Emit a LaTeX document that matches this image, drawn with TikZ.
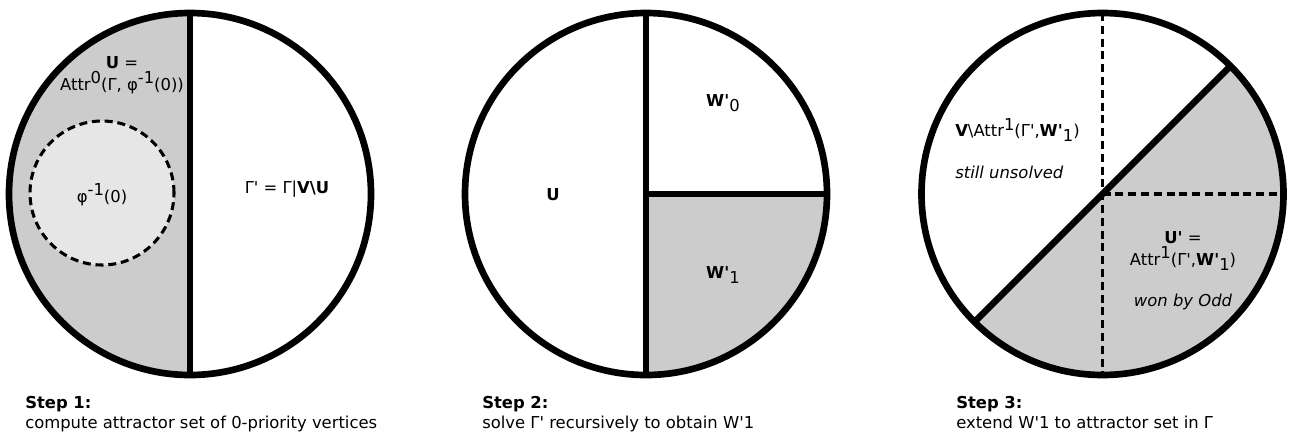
\documentclass[tikz,border=0pt]{standalone}
\usepackage{fontspec}
\setmainfont{DejaVu Sans}[Ligatures=TeXOff]
\usetikzlibrary{positioning}
\definecolor{Shade}{HTML}{CCCCCC}
\definecolor{Pale}{HTML}{E6E6E6}
\newcommand{\up}[1]{\raisebox{0.42em}{#1}}
\newcommand{\dn}[1]{\raisebox{-0.3em}{#1}}

\begin{document}
\begin{tikzpicture}[x=0.75pt, y=0.75pt, font=\fontsize{12.3}{16.5}\selectfont,
  rim/.style={line width=5pt},
  split/.style={line width=2.3pt, dash pattern=on 6pt off 3.6pt},
  caption/.style={anchor=north west, align=left, inner sep=0pt, font=\fontsize{12.3}{15.3}\selectfont}]
\useasboundingbox (0,0) rectangle (1294,433);
\coordinate (c1) at (190,239);
\coordinate (c2) at (646,239);
\coordinate (c3) at (1102.5,239);

\fill[Shade] (c1) ++(0,181) arc[start angle=90, end angle=270, radius=181] -- cycle;
\draw[split, fill=Pale] (102,240) circle[radius=72];
\draw[rim] (c1) ++(0,181) -- ++(0,-362);
\draw[rim] (c1) circle[radius=181];
\node[align=center] (u1) at (122,358) {\textbf{U} =\\Attr\up{0}(Γ, φ\up{-1}(0))};
\node (phi) at (102,238) {φ\up{-1}(0)};
\node (rest) at (287,244) {Γ' = Γ|\textbf{V\textbackslash U}};
\node[caption] (s1) at (25,37) {\textbf{Step 1:}\\compute attractor set of 0-priority vertices};

\fill[Shade] (c2) -- ++(0,-181) arc[start angle=-90, end angle=0, radius=181] -- cycle;
\draw[rim] (c2) ++(0,181) -- ++(0,-362);
\draw[rim] (c2) -- ++(181,0);
\draw[rim] (c2) circle[radius=181];
\node (u2) at (553,238) {\textbf{U}};
\node (w0) at (723,330) {\textbf{W'}\dn{0}};
\node (w1) at (723,158) {\textbf{W'}\dn{1}};
\node[caption] (s2) at (482,37) {\textbf{Step 2:}\\solve Γ' recursively to obtain W'1};

\fill[Shade] (c3) ++(45:181) arc[start angle=45, end angle=-135, radius=181] -- cycle;
\draw[split] (c3) ++(0,181) -- ++(0,-362);
\draw[split] (c3) -- ++(181,0);
\draw[rim] (c3) ++(45:181) -- ++(225:362);
\draw[rim] (c3) circle[radius=181];
\node[anchor=west, inner sep=0pt] (open) at (955,303) {\textbf{V}\textbackslash Attr\up{1}(Γ',\textbf{W'}\dn{1})};
\node[anchor=west, inner sep=0pt] (note) at (955,261) {\itshape still unsolved};
\node[align=center] (u3) at (1183,182) {\textbf{U'} =\\Attr\up{1}(Γ',\textbf{W'}\dn{1})};
\node (odd) at (1183,131) {\itshape won by Odd};
\node[caption] (s3) at (956,37) {\textbf{Step 3:}\\extend W'1 to attractor set in Γ};
\end{tikzpicture}
\end{document}
